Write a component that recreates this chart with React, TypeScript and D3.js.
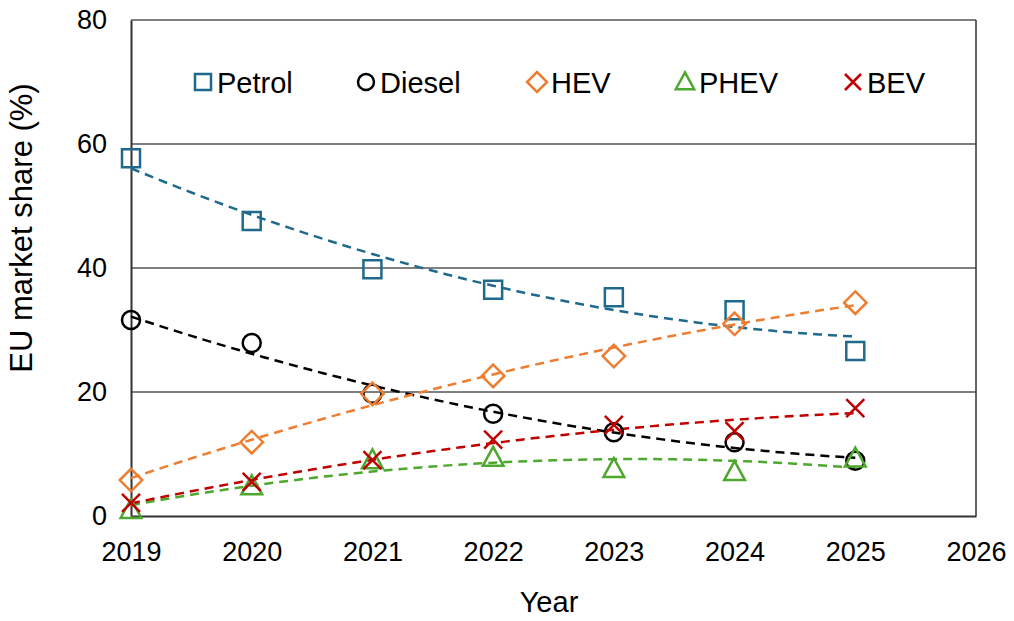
import { axisBottom, axisLeft, line, scaleLinear, select } from "d3";
import { useEffect, useRef } from "react";

const years = [2019, 2020, 2021, 2022, 2023, 2024, 2025];
const petrol = [57.7, 47.6, 39.8, 36.5, 35.3, 33.2, 26.6];
const diesel = [31.6, 27.9, 19.7, 16.5, 13.5, 11.9, 8.9];
const hev = [5.8, 11.9, 19.7, 22.6, 25.8, 31.0, 34.4];
const phev = [1.0, 4.8, 9.0, 9.4, 7.6, 7.1, 9.3];
const bev = [2.1, 5.5, 9.0, 12.3, 14.7, 13.7, 17.4];
const xTicks = [2019, 2020, 2021, 2022, 2023, 2024, 2025, 2026];
const yTicks = [0, 20, 40, 60, 80];

type Shape = "square" | "circle" | "diamond" | "triangle" | "cross";
type Series = { name: string; values: number[]; color: string; shape: Shape };

const series: Series[] = [
  { name: "Petrol", values: petrol, color: "#1f6a8c", shape: "square" },
  { name: "Diesel", values: diesel, color: "#000000", shape: "circle" },
  { name: "HEV", values: hev, color: "#ed7d31", shape: "diamond" },
  { name: "PHEV", values: phev, color: "#4ea72e", shape: "triangle" },
  { name: "BEV", values: bev, color: "#c00000", shape: "cross" },
];

// 2nd order least squares fit, like the spreadsheet trendline
const polyFit = (xs: number[], ys: number[]) => {
  const s = [0, 0, 0, 0, 0];
  const t = [0, 0, 0];
  xs.forEach((x, i) => {
    for (let k = 0; k < 5; k++) s[k] += Math.pow(x, k);
    for (let k = 0; k < 3; k++) t[k] += Math.pow(x, k) * ys[i];
  });
  const m = [
    [s[0], s[1], s[2], t[0]],
    [s[1], s[2], s[3], t[1]],
    [s[2], s[3], s[4], t[2]],
  ];
  for (let c = 0; c < 3; c++) {
    for (let r = c + 1; r < 3; r++) {
      const f = m[r][c] / m[c][c];
      for (let k = c; k < 4; k++) m[r][k] -= f * m[c][k];
    }
  }
  const b = [0, 0, 0];
  for (let r = 2; r >= 0; r--) {
    let v = m[r][3];
    for (let k = r + 1; k < 3; k++) v -= m[r][k] * b[k];
    b[r] = v / m[r][r];
  }
  return (x: number) => b[0] + b[1] * x + b[2] * x * x;
};

const markerPath = (shape: Shape, r: number) => {
  switch (shape) {
    case "square":
      return `M${-r},${-r}H${r}V${r}H${-r}Z`;
    case "circle":
      return `M${-r},0A${r},${r} 0 1,0 ${r},0A${r},${r} 0 1,0 ${-r},0Z`;
    case "diamond":
      return `M0,${-r * 1.25}L${r * 1.25},0L0,${r * 1.25}L${-r * 1.25},0Z`;
    case "triangle":
      return `M0,${-r * 1.2}L${r * 1.15},${r * 0.9}L${-r * 1.15},${r * 0.9}Z`;
    default:
      return `M${-r},${-r}L${r},${r}M${r},${-r}L${-r},${r}`;
  }
};

const App = () => {
  const svgRef = useRef<SVGSVGElement>(null);
  const width = 1014;
  const height = 621;
  const left = 131;
  const right = 976;
  const top = 20;
  const bottom = 516;
  const font = "Liberation Sans, Arial, sans-serif";

  useEffect(() => {
    const svg = select(svgRef.current);
    svg.selectAll("*").remove();

    const x = scaleLinear().domain([2019, 2026]).range([left, right]);
    const y = scaleLinear().domain([0, 80]).range([bottom, top]);

    // gridlines
    svg
      .append("g")
      .selectAll("line")
      .data(yTicks.filter((d) => d > 0))
      .join("line")
      .attr("x1", left)
      .attr("x2", right)
      .attr("y1", (d) => y(d))
      .attr("y2", (d) => y(d))
      .attr("stroke", "#000")
      .attr("stroke-width", 1);

    svg
      .append("line")
      .attr("x1", right)
      .attr("x2", right)
      .attr("y1", top)
      .attr("y2", bottom)
      .attr("stroke", "#333")
      .attr("stroke-width", 1.5);

    const xAxis = svg
      .append("g")
      .attr("transform", `translate(0,${bottom})`)
      .call(
        axisBottom(x)
          .tickValues(xTicks)
          .tickFormat((d) => String(d))
          .tickSize(0)
          .tickPadding(26)
      );
    const yAxis = svg
      .append("g")
      .attr("transform", `translate(${left},0)`)
      .call(axisLeft(y).tickValues(yTicks).tickSize(0).tickPadding(24));

    [xAxis, yAxis].forEach((g) => {
      g.select(".domain").attr("stroke", "#333").attr("stroke-width", 2);
      g.selectAll("text")
        .attr("font-family", font)
        .attr("font-size", 27)
        .attr("fill", "#000");
    });

    // trendlines
    const ts = years.map((d) => d - 2019);
    const fine: number[] = [];
    for (let i = 0; i <= 60; i++) fine.push(i / 10);
    series.forEach((s) => {
      const f = polyFit(ts, s.values);
      svg
        .append("path")
        .attr(
          "d",
          line<number>()
            .x((t) => x(2019 + t))
            .y((t) => y(f(t)))(fine)
        )
        .attr("fill", "none")
        .attr("stroke", s.color)
        .attr("stroke-width", 2.5)
        .attr("stroke-dasharray", "9,6");
    });

    // markers
    series.forEach((s) => {
      svg
        .append("g")
        .selectAll("path")
        .data(s.values)
        .join("path")
        .attr("transform", (d, i) => `translate(${x(years[i])},${y(d)})`)
        .attr("d", markerPath(s.shape, 9))
        .attr("fill", "none")
        .attr("stroke", s.color)
        .attr("stroke-width", 2.5);
    });

    // legend
    const legendX = [203, 366, 537, 685, 853];
    series.forEach((s, i) => {
      const g = svg
        .append("g")
        .attr("transform", `translate(${legendX[i]},82)`);
      g.append("path")
        .attr("d", markerPath(s.shape, 8))
        .attr("fill", "none")
        .attr("stroke", s.color)
        .attr("stroke-width", 2.5);
      g.append("text")
        .attr("x", 14)
        .attr("y", 11)
        .attr("font-family", font)
        .attr("font-size", 29)
        .text(s.name);
    });

    svg
      .append("text")
      .attr("x", 549)
      .attr("y", 612)
      .attr("text-anchor", "middle")
      .attr("font-family", font)
      .attr("font-size", 29)
      .text("Year");

    svg
      .append("text")
      .attr("transform", `translate(32,228) rotate(-90)`)
      .attr("text-anchor", "middle")
      .attr("font-family", font)
      .attr("font-size", 31)
      .text("EU market share (%)");
  }, []);

  return (
    <svg
      ref={svgRef}
      width={width}
      height={height}
      viewBox={`0 0 ${width} ${height}`}
      style={{ position: "absolute", left: 0, top: 0, background: "#fff" }}
    />
  );
};

export default App;
